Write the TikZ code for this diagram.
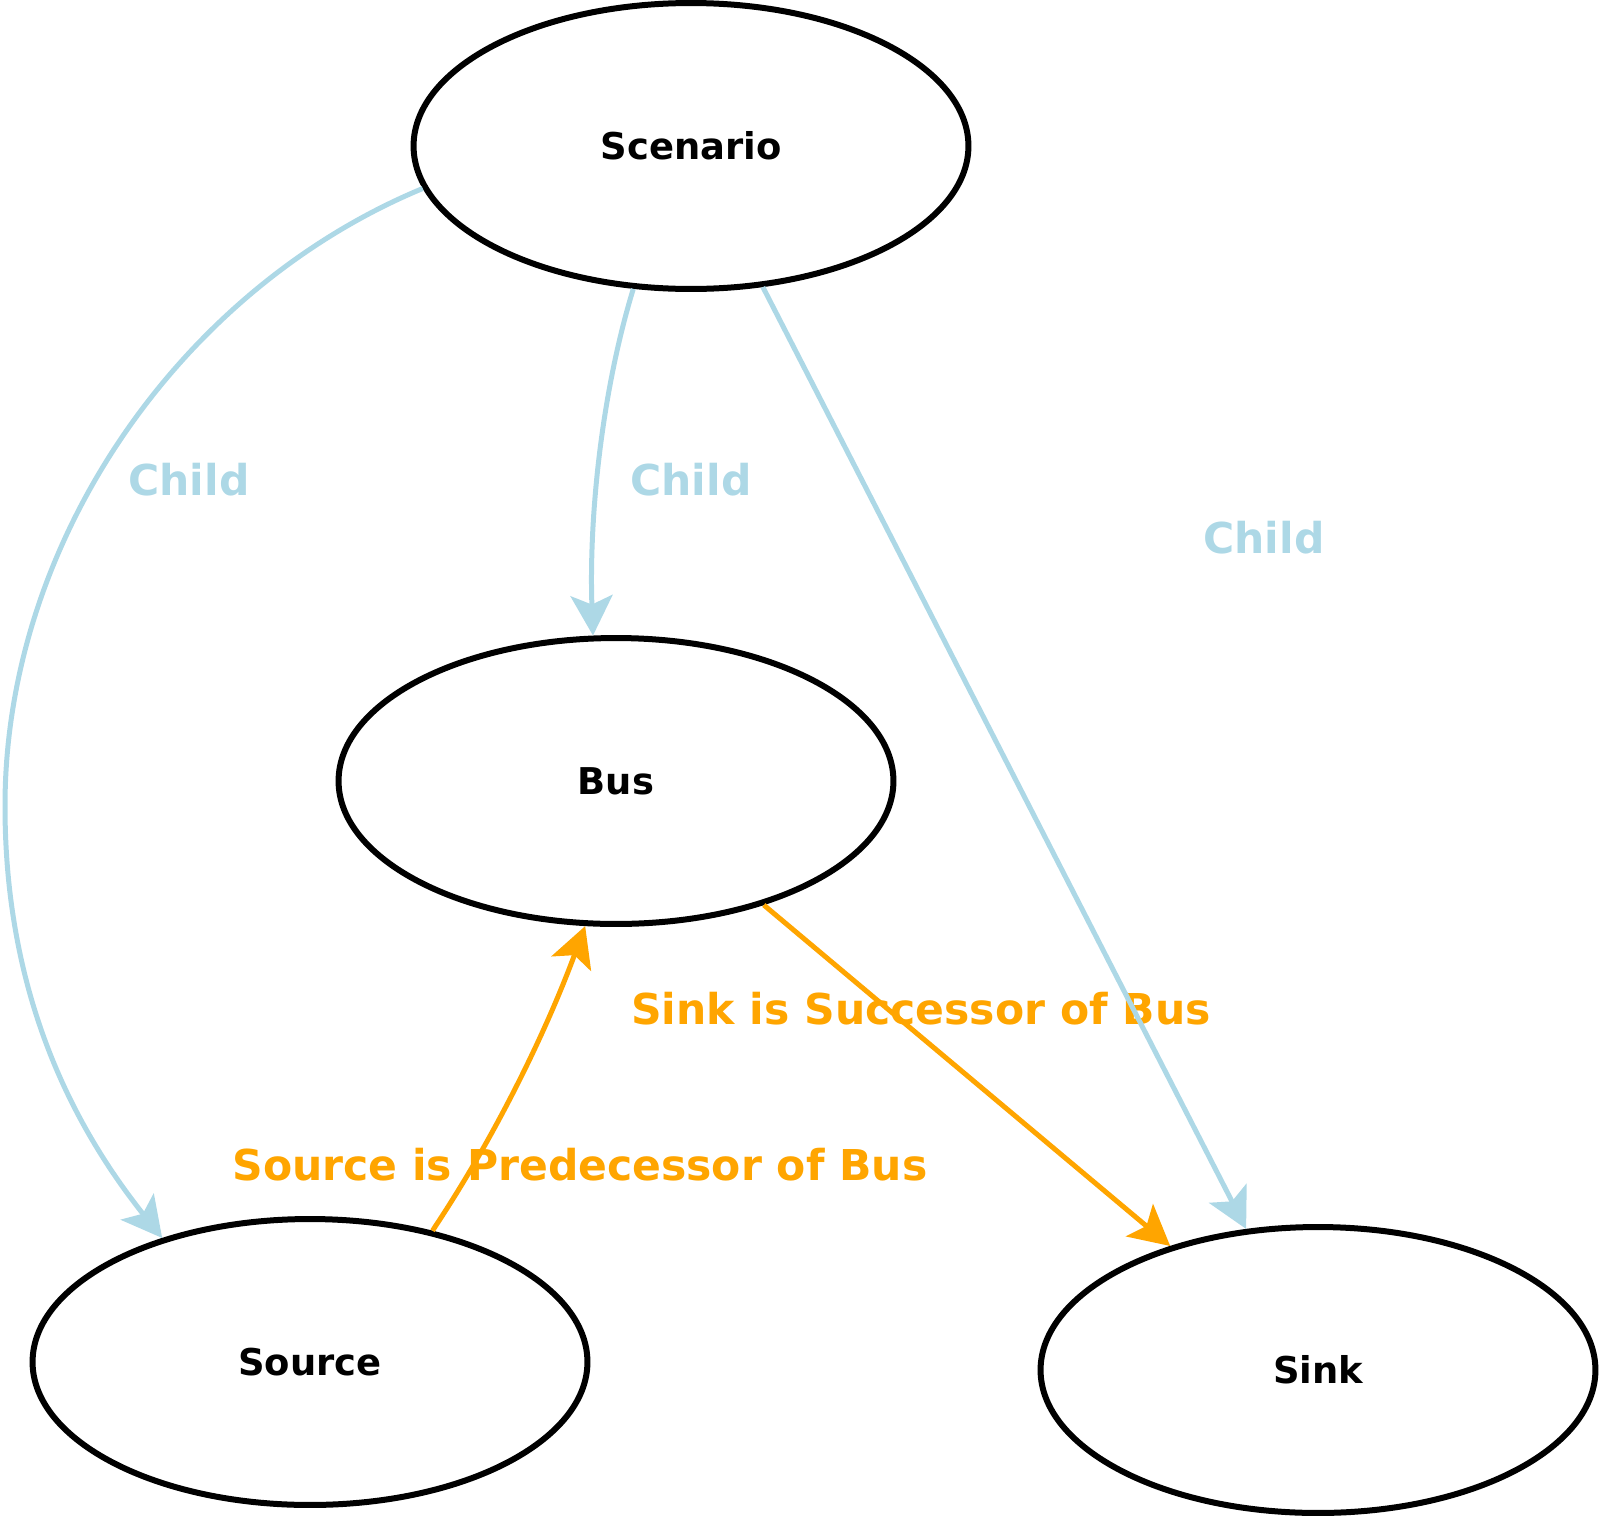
\documentclass[tikz,border=0pt]{standalone}
\usepackage{fontspec}
\setmainfont{DejaVu Sans}
\usetikzlibrary{arrows.meta,shapes.geometric}
\definecolor{childblue}{HTML}{ADD8E6}
\definecolor{relorange}{HTML}{FFA500}

\begin{document}
\begin{tikzpicture}[x=0.02cm,y=-0.02cm,
  ent/.style={ellipse,draw,line width=0.12cm,minimum width=11.1cm,minimum height=5.72cm,inner sep=0pt,font=\bfseries\fontsize{21}{25}\selectfont},
  lbl/.style={inner sep=0pt,font=\bfseries\fontsize{24.2}{29}\selectfont},
  child/.style={childblue,line width=0.1cm,-{Stealth[length=0.8cm,width=0.84cm,inset=0.18cm]}},
  rel/.style={relorange,line width=0.1cm,-{Stealth[length=0.8cm,width=0.84cm,inset=0.18cm]}}]
  \useasboundingbox (0,0) rectangle (1600,1518);
  % entidades
  \node[ent] (scen) at (691,146) {Scenario};
  \node[ent] (bus) at (616,781) {Bus};
  \node[ent] (src) at (310,1362) {Source};
  \node[ent] (sink) at (1318,1370) {Sink};
  % etiquetas
  \node[lbl,childblue] (c1) at (189,480) {Child};
  \node[lbl,childblue] (c2) at (691,480) {Child};
  \node[lbl,childblue] (c3) at (1264,538) {Child};
  \node[lbl,relorange] (succ) at (921,1009) {Sink is Successor of Bus};
  \node[lbl,relorange] (pred) at (580,1165) {Source is Predecessor of Bus};
  % Child
  \coordinate (lbend) at (5,806);
  \draw[child] (scen.189) .. controls +(-241,100) and +(0,-266) .. (lbend) .. controls +(0,184) and +(-93,-117) .. (src.140);
  \draw[child] (scen.248) .. controls +(-33,108) and +(-4,-113) .. (bus.99);
  \draw[child] (scen.297) -- (sink.117);
  % relaciones
  \draw[rel] (bus.320) -- (sink.140);
  \draw[rel] (src.47) .. controls +(62,-93) and +(-40,108) .. (bus.258);
\end{tikzpicture}
\end{document}
